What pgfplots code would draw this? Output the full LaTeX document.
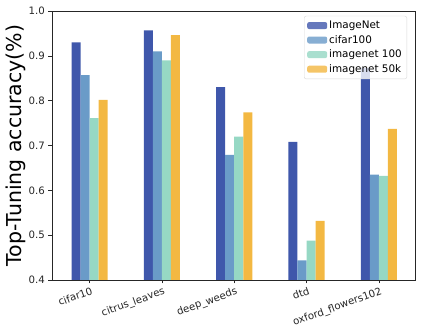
\documentclass[border=0pt]{standalone}
\usepackage{pgfplots}
\pgfplotsset{compat=1.18}
\usepackage{fontspec}
\setmainfont{DejaVu Sans}
\definecolor{cA}{HTML}{3F57AB}
\definecolor{cB}{HTML}{6A9BC8}
\definecolor{cC}{HTML}{96D8C4}
\definecolor{cD}{HTML}{F3B842}
\definecolor{axgray}{HTML}{262626}
\begin{document}
\begin{tikzpicture}
\begin{axis}[
  scale only axis,
  width=363pt, height=269pt,
  xmin=-0.52, xmax=4.5,
  ymin=0.4, ymax=1.0,
  ytick={0.4,0.5,0.6,0.7,0.8,0.9,1.0},
  yticklabel style={/pgf/number format/fixed,/pgf/number format/fixed zerofill,/pgf/number format/precision=1},
  /pgf/number format/assume math mode=true,
  xtick={0,1,2,3,4},
  xticklabels={cifar10,citrus\_leaves,deep\_weeds,dtd,oxford\_flowers102},
  xticklabel style={rotate=20, anchor=north east, inner sep=0pt, yshift=-3pt, font=\fontsize{10.2}{12}\selectfont, text=axgray},
  yticklabel style={font=\fontsize{10.2}{12}\selectfont, text=axgray},
  tick align=outside,
  major tick length=3.5pt,
  xtick pos=bottom, ytick pos=left,
  tick style={axgray, line width=0.6pt},
  axis line style={axgray, line width=0.7pt},
  ylabel={Top-Tuning accuracy(\%)},
  ylabel style={font=\fontsize{20.5}{24}\selectfont, at={(axis description cs:-0.0992,0.5)}, anchor=center},
  ybar, bar width=0.125,
  legend style={at={(rel axis cs:0.978,0.982)}, anchor=north east, font=\fontsize{10.4}{12}\selectfont, draw=black!15, rounded corners=2pt, fill=white, fill opacity=0.8, text opacity=1, row sep=1.2pt, inner sep=3pt},
  legend cell align=left,
  legend image code/.code={\fill[#1] (0pt,-3.5pt) rectangle (20pt,3.5pt);},
]
\addplot[fill=cA, draw=none, bar shift=-0.1875] coordinates {(0,0.930) (1,0.957) (2,0.830) (3,0.708) (4,0.873)};
\addplot[fill=cB, draw=none, bar shift=-0.0625] coordinates {(0,0.857) (1,0.910) (2,0.679) (3,0.444) (4,0.635)};
\addplot[fill=cC, draw=none, bar shift=0.0625] coordinates {(0,0.761) (1,0.890) (2,0.720) (3,0.488) (4,0.632)};
\addplot[fill=cD, draw=none, bar shift=0.1875] coordinates {(0,0.802) (1,0.946) (2,0.774) (3,0.532) (4,0.737)};
\legend{ImageNet,cifar100,imagenet 100,imagenet 50k}
\end{axis}
\path (current axis.south west) ++(-52pt,-56pt) coordinate (bbA);
\path (current axis.north east) ++(8pt,11pt) coordinate (bbB);
\path (bbA) rectangle (bbB);
\end{tikzpicture}
\end{document}
